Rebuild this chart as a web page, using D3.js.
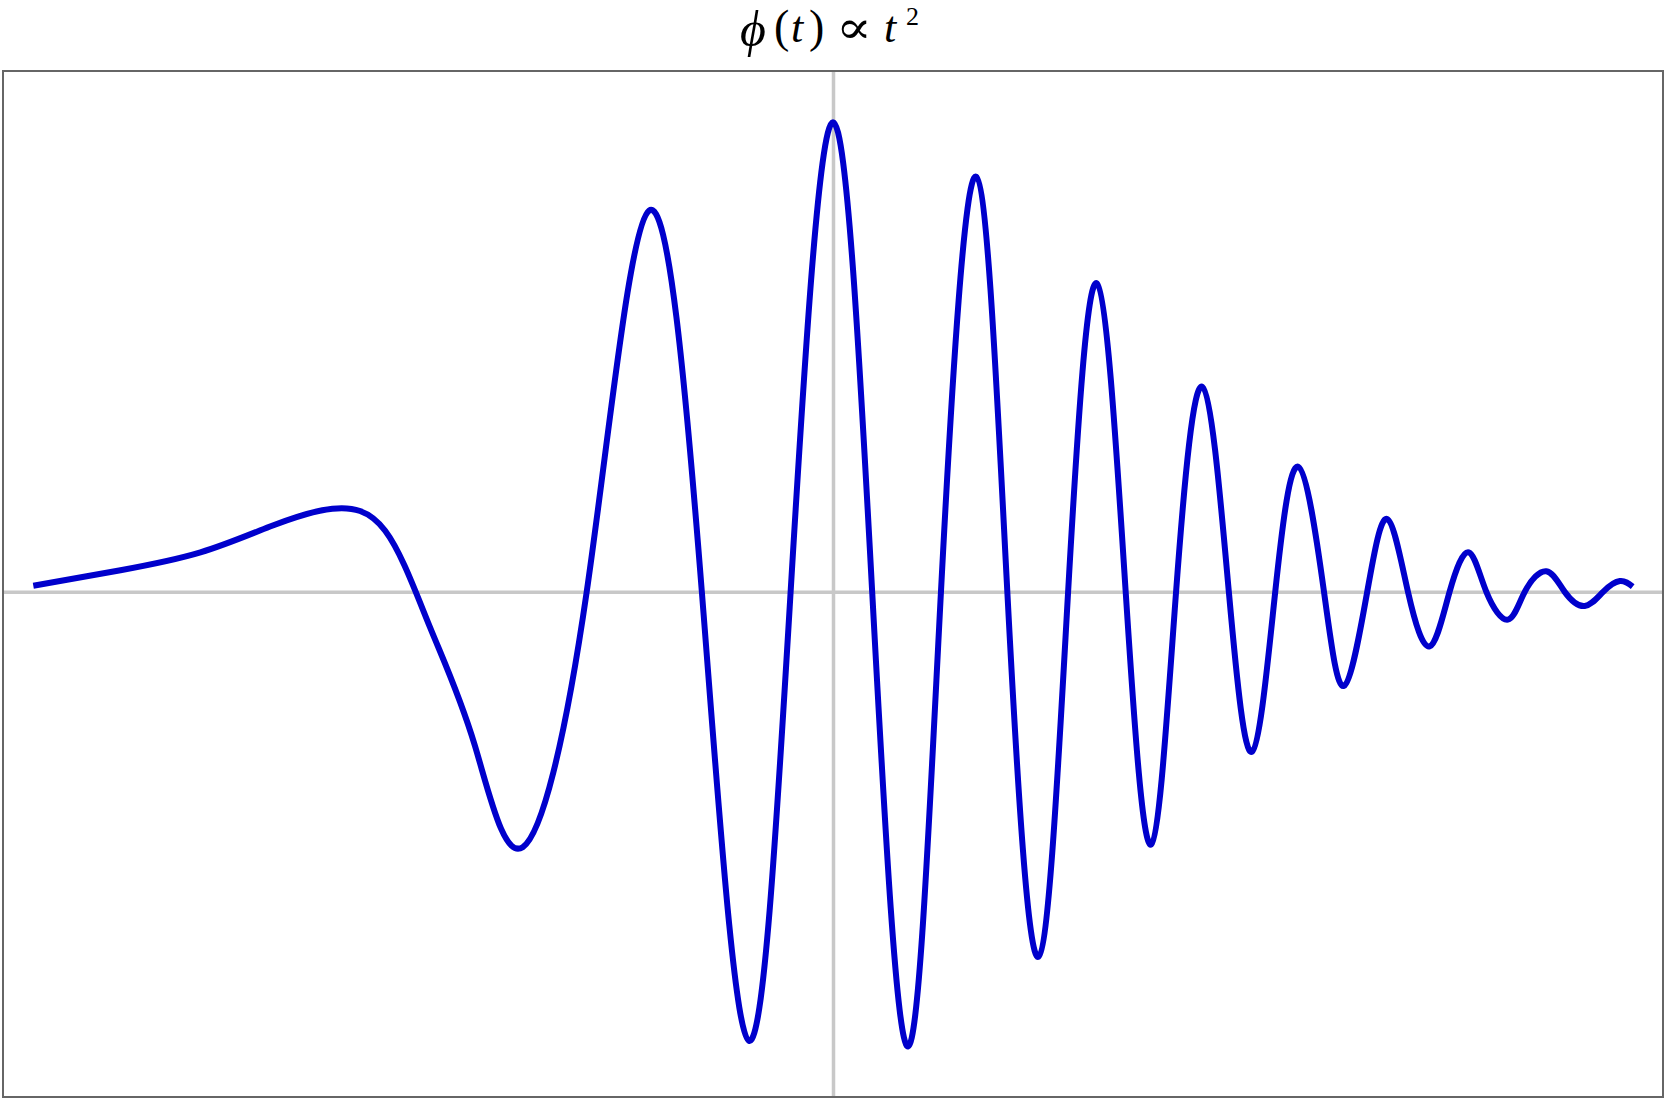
<!DOCTYPE html>
<html>
<head>
<meta charset="utf-8">
<script src="https://cdn.jsdelivr.net/npm/d3@7"></script>
<style>
  html, body { margin: 0; padding: 0; background: #fff; }
  svg { display: block; }
</style>
</head>
<body>
<svg id="chart"></svg>
<script>
// values (lead-in, then extrema and zero crossings of the chirp)
const tValues = [
  -1.000, -0.891, -0.791, -0.704, -0.626, -0.560, -0.504, -0.448,
  -0.388, -0.308, -0.230, -0.164, -0.105, -0.053, 0.000, 0.049, 0.094, 0.135,
  0.179, 0.218, 0.257, 0.294, 0.330, 0.366, 0.398, 0.429, 0.462, 0.495,
  0.524, 0.553, 0.582, 0.614, 0.639, 0.668, 0.693, 0.719, 0.746, 0.771,
  0.795, 0.817, 0.844, 0.865, 0.892, 0.915, 0.940, 0.963, 0.984, 1.000
];
const phiValues = [
  0.013, 0.046, 0.084, 0.139, 0.177, 0.130, -0.075, -0.326,
  -0.543, 0.000, 0.811, 0.000, -0.955, 0.000, 0.999, 0.000, -0.967, 0.000,
  0.883, 0.000, -0.776, 0.000, 0.656, 0.000, -0.537, 0.000, 0.436, 0.000,
  -0.340, 0.000, 0.266, 0.000, -0.200, 0.000, 0.155, 0.000, -0.116, 0.000,
  0.084, 0.000, -0.059, 0.000, 0.044, 0.000, -0.030, 0.000, 0.023, 0.011
];
const xDomain = [-1.0379, 1.0379];
const yDomain = [-1.0745, 1.108];

// title pieces: text, font, style, left edge, baseline, size
const titleParts = [
  { text: 'ϕ', font: 'Liberation Serif', italic: true, x: 740, y: 46, size: 50 },
  { text: '(', font: 'Liberation Serif', italic: false, x: 774, y: 42, size: 46 },
  { text: 't', font: 'Liberation Serif', italic: true, x: 791, y: 42, size: 44 },
  { text: ')', font: 'Liberation Serif', italic: false, x: 809, y: 42, size: 46 },
  { text: '∝', font: 'DejaVu Serif', italic: false, x: 836, y: 43, size: 46, width: 36 },
  { text: 't', font: 'Liberation Serif', italic: true, x: 884, y: 42, size: 44 },
  { text: '2', font: 'Liberation Serif', italic: false, x: 906, y: 25, size: 26 }
];

const width = 1667, height = 1101;
const plot = { left: 3, right: 1663, top: 71, bottom: 1097 };

const svg = d3.select('#chart')
  .attr('width', width)
  .attr('height', height);

const x = d3.scaleLinear().domain(xDomain).range([plot.left, plot.right]);
const y = d3.scaleLinear().domain(yDomain).range([plot.bottom, plot.top]);

// zero lines
svg.append('g')
  .attr('transform', `translate(0, ${plot.bottom})`)
  .call(d3.axisBottom(x).tickValues([0]).tickSize(-(plot.bottom - plot.top)).tickFormat(''))
  .call(g => g.select('.domain').remove())
  .call(g => g.selectAll('line').attr('stroke', '#c8c8c8').attr('stroke-width', 3.5));

svg.append('g')
  .attr('transform', `translate(${plot.left}, 0)`)
  .call(d3.axisLeft(y).tickValues([0]).tickSize(-(plot.right - plot.left)).tickFormat(''))
  .call(g => g.select('.domain').remove())
  .call(g => g.selectAll('line').attr('stroke', '#c8c8c8').attr('stroke-width', 3.5));

// the signal
const points = tValues.map((t, i) => [t, phiValues[i]]);
const line = d3.line()
  .x(d => x(d[0]))
  .y(d => y(d[1]))
  .curve(d3.curveNatural);

svg.append('path')
  .datum(points)
  .attr('d', line)
  .attr('fill', 'none')
  .attr('stroke', '#0000cc')
  .attr('stroke-width', 6)
  .attr('stroke-linejoin', 'round');

// frame
svg.append('rect')
  .attr('x', plot.left)
  .attr('y', plot.top)
  .attr('width', plot.right - plot.left)
  .attr('height', plot.bottom - plot.top)
  .attr('fill', 'none')
  .attr('stroke', '#666')
  .attr('stroke-width', 2);

// title
svg.append('g')
  .attr('fill', '#000')
  .selectAll('text')
  .data(titleParts)
  .join('text')
  .attr('x', d => d.x)
  .attr('y', d => d.y)
  .attr('font-family', d => `"${d.font}", serif`)
  .attr('font-size', d => d.size)
  .attr('font-style', d => d.italic ? 'italic' : 'normal')
  .attr('textLength', d => d.width || null)
  .attr('lengthAdjust', d => d.width ? 'spacingAndGlyphs' : null)
  .text(d => d.text);
</script>
</body>
</html>
